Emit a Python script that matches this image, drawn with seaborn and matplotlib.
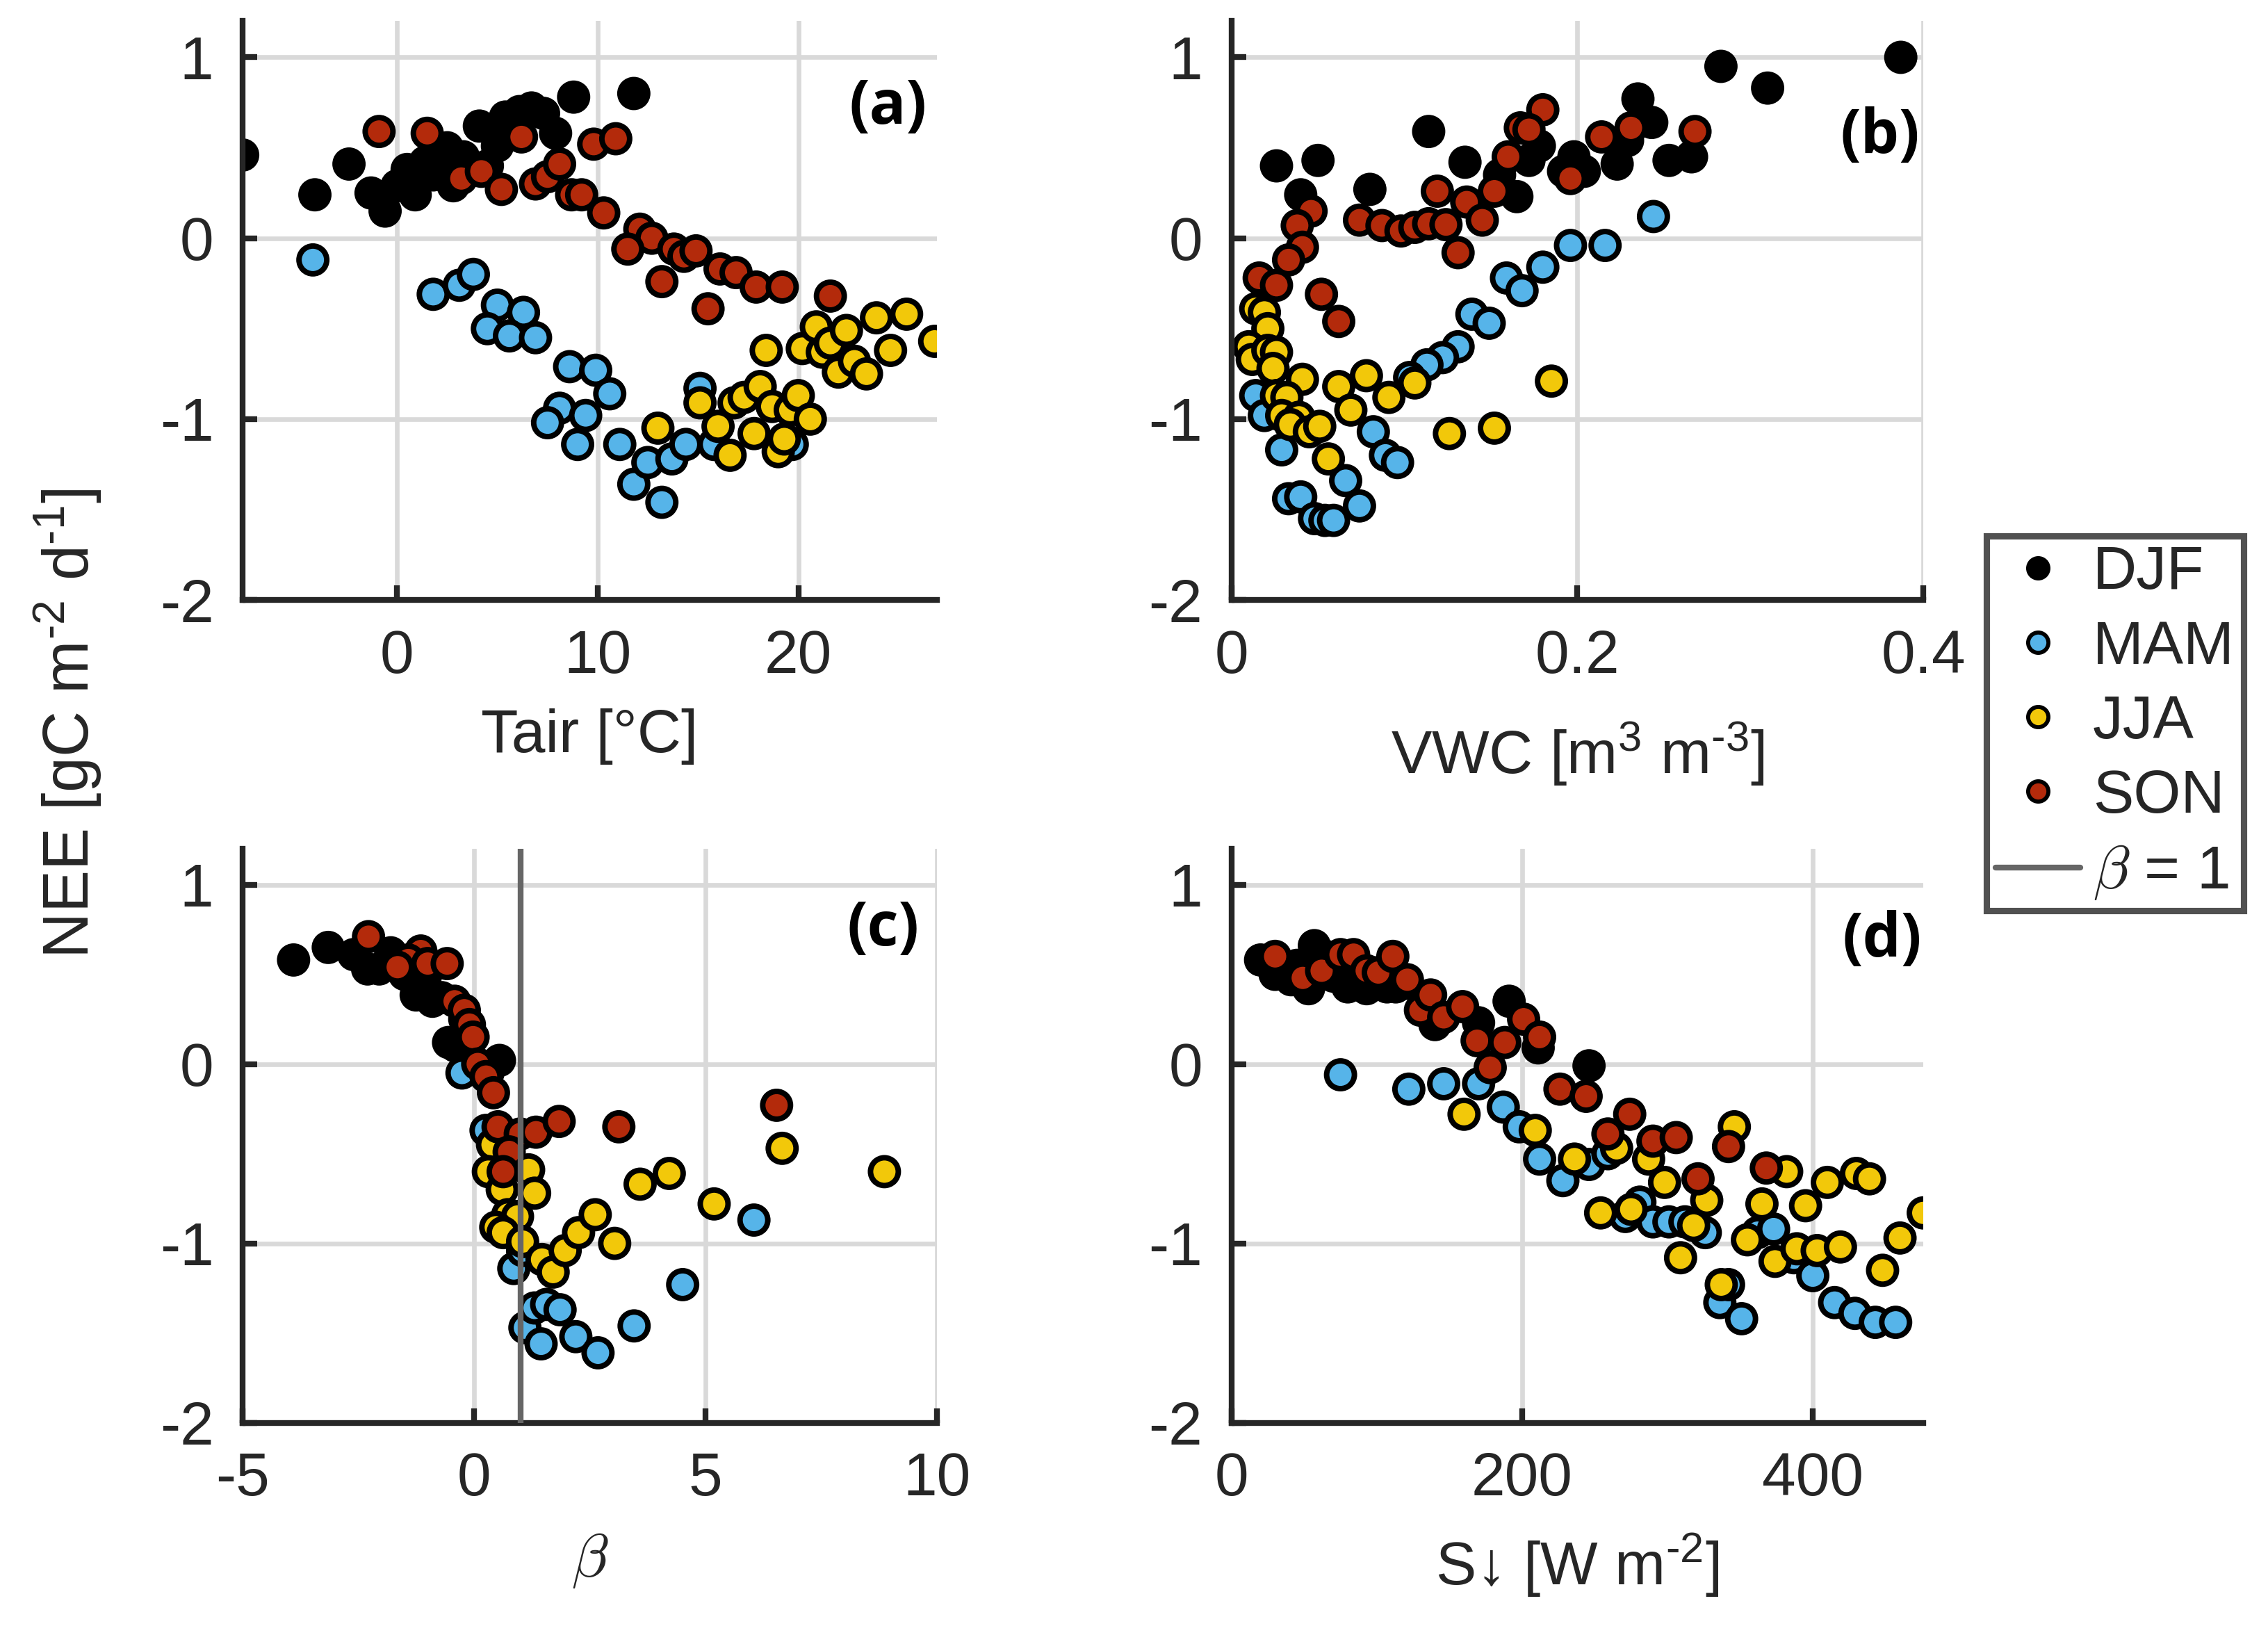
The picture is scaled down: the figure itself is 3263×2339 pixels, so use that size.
import numpy as np
import pandas as pd
import matplotlib
matplotlib.use("Agg")
import matplotlib.pyplot as plt
from matplotlib.lines import Line2D
import seaborn as sns

seasons = ["DJF", "MAM", "JJA", "SON"]
colors = {"DJF": "#000000", "MAM": "#56B4E9", "JJA": "#F2C80A", "SON": "#B32A0B"}

# ---- panel (a): Tair ----
a_djf_x = [-7.7, -4.1, -2.4, -1.3, -0.6, 0.0, 0.5, 0.9, 1.4, 1.8, 2.5, 2.8, 3.3, 4.1, 4.5,
           5.0, 5.4, 6.1, 6.7, 7.3, 7.9, 8.8, 11.8, 1.0, 2.2]
a_djf_y = [0.46, 0.24, 0.41, 0.25, 0.15, 0.29, 0.38, 0.24, 0.42, 0.35, 0.50, 0.29, 0.45, 0.62, 0.40,
           0.51, 0.67, 0.70, 0.72, 0.69, 0.58, 0.78, 0.80, 0.32, 0.40]
a_mam_x = [-4.2, 1.8, 3.1, 3.8, 5.0, 6.3, 4.5, 5.6, 6.9, 8.6, 9.9, 10.6, 8.1, 7.5, 9.4,
           9.0, 11.1, 11.8, 12.5, 13.2, 13.7, 14.4, 15.1, 15.8, 19.7]
a_mam_y = [-0.12, -0.31, -0.26, -0.20, -0.37, -0.41, -0.50, -0.54, -0.55, -0.71, -0.73, -0.86, -0.94, -1.02, -0.98,
           -1.14, -1.14, -1.36, -1.24, -1.46, -1.22, -1.14, -0.83, -1.14, -1.14]
a_jja_x = [15.1, 13.0, 16.0, 16.6, 16.8, 17.3, 18.1, 17.8, 18.7, 19.6, 20.0, 20.6, 19.0, 19.3,
           18.4, 20.2, 20.9, 21.2, 21.6, 22.4, 22.0, 22.8, 23.4, 23.9, 24.6, 25.4, 26.8]
a_jja_y = [-0.91, -1.05, -1.04, -1.20, -0.91, -0.88, -0.82, -1.08, -0.93, -0.95, -0.87, -1.00, -1.18, -1.11,
           -0.62, -0.61, -0.49, -0.63, -0.58, -0.51, -0.74, -0.68, -0.75, -0.44, -0.62, -0.42, -0.57]
a_son_x = [-0.9, 1.5, 3.2, 4.2, 5.2, 6.2, 6.9, 7.5, 8.1, 8.7, 9.2, 9.8, 10.9, 10.3, 12.1,
           12.7, 11.5, 13.8, 14.3, 14.9, 13.2, 16.1, 16.9, 17.9, 19.2, 15.5, 21.6]
a_son_y = [0.59, 0.58, 0.33, 0.37, 0.27, 0.56, 0.30, 0.34, 0.41, 0.24, 0.24, 0.52, 0.55, 0.14, 0.05,
           0.00, -0.06, -0.06, -0.10, -0.07, -0.24, -0.17, -0.19, -0.27, -0.27, -0.39, -0.32]

# ---- panel (b): VWC ----
b_djf_x = [0.026, 0.040, 0.050, 0.080, 0.114, 0.135, 0.165, 0.155, 0.172, 0.178, 0.192, 0.198,
           0.204, 0.223, 0.229, 0.235, 0.243, 0.253, 0.266, 0.283, 0.310, 0.387]
b_djf_y = [0.40, 0.24, 0.43, 0.27, 0.59, 0.42, 0.23, 0.35, 0.43, 0.51, 0.37, 0.45,
           0.37, 0.41, 0.54, 0.77, 0.64, 0.43, 0.45, 0.95, 0.83, 1.00]
b_mam_x = [0.244, 0.216, 0.196, 0.180, 0.159, 0.168, 0.139, 0.149, 0.131, 0.122, 0.113, 0.103,
           0.082, 0.089, 0.096, 0.066, 0.074, 0.033, 0.040, 0.048, 0.054, 0.059, 0.029, 0.014, 0.019]
b_mam_y = [0.12, -0.04, -0.04, -0.16, -0.22, -0.29, -0.42, -0.47, -0.60, -0.66, -0.70, -0.77,
           -1.07, -1.20, -1.24, -1.34, -1.48, -1.44, -1.43, -1.55, -1.56, -1.56, -1.17, -0.87, -0.98]
b_jja_x = [0.014, 0.019, 0.021, 0.010, 0.012, 0.021, 0.026, 0.024, 0.041, 0.026, 0.032, 0.029,
           0.039, 0.034, 0.045, 0.051, 0.056, 0.062, 0.069, 0.078, 0.091, 0.106, 0.126, 0.152, 0.185]
b_jja_y = [-0.39, -0.41, -0.50, -0.60, -0.67, -0.62, -0.63, -0.72, -0.78, -0.87, -0.88, -0.98,
           -0.99, -1.03, -1.07, -1.04, -1.22, -0.82, -0.95, -0.76, -0.88, -0.80, -1.08, -1.05, -0.79]
b_son_x = [0.180, 0.167, 0.172, 0.160, 0.152, 0.136, 0.145, 0.119, 0.074, 0.087, 0.098, 0.106,
           0.114, 0.124, 0.131, 0.046, 0.038, 0.041, 0.033, 0.016, 0.026, 0.052, 0.062, 0.196,
           0.214, 0.231, 0.268]
b_son_y = [0.71, 0.61, 0.60, 0.45, 0.26, 0.20, 0.10, 0.26, 0.10, 0.07, 0.04, 0.06,
           0.08, 0.075, -0.08, 0.15, 0.07, -0.05, -0.12, -0.22, -0.26, -0.31, -0.46, 0.33,
           0.56, 0.61, 0.59]

# ---- panel (c): beta ----
c_djf_x = [-3.9, -3.15, -2.6, -2.3, -2.05, -1.8, -1.5, -1.25, -1.05, -0.9, -0.7, -0.55,
           -0.4, 0.55, 0.3, -0.2]
c_djf_y = [0.58, 0.65, 0.61, 0.53, 0.53, 0.62, 0.50, 0.385, 0.49, 0.35, 0.37, 0.12,
           0.10, 0.02, -0.05, 0.25]
c_mam_x = [-0.26, 0.26, 0.86, 1.10, 1.31, 1.57, 1.86, 1.45, 2.20, 2.68, 3.46, 4.51, 6.05, 1.05]
c_mam_y = [-0.05, -0.37, -1.14, -1.47, -1.36, -1.34, -1.37, -1.56, -1.52, -1.61, -1.46, -1.23, -0.87, -1.04]
c_jja_x = [0.40, 0.31, 0.61, 1.18, 1.31, 0.73, 0.94, 0.47, 0.63, 1.05, 1.47, 1.71, 1.97,
           2.26, 2.62, 3.04, 3.59, 4.22, 5.19, 6.66, 8.87]
c_jja_y = [-0.45, -0.60, -0.70, -0.59, -0.72, -0.84, -0.85, -0.91, -0.94, -0.99, -1.09, -1.16, -1.04,
           -0.94, -0.84, -1.00, -0.67, -0.61, -0.78, -0.47, -0.60]
c_son_x = [-2.28, -1.15, -1.42, -1.65, -1.0, -0.58, -0.42, -0.21, -0.10, -0.02, 0.08, 0.26,
           0.42, 0.52, 1.0, 1.34, 1.84, 0.76, 0.63, 3.13, 6.54]
c_son_y = [0.71, 0.63, 0.58, 0.54, 0.56, 0.56, 0.35, 0.30, 0.22, 0.15, 0.00, -0.07,
           -0.16, -0.35, -0.39, -0.38, -0.32, -0.49, -0.60, -0.35, -0.23]

# ---- panel (d): shortwave ----
d_djf_x = [20, 30, 41, 53, 57, 70, 80, 93, 107, 113, 140, 170, 191, 211, 246, 65, 45, 120]
d_djf_y = [0.58, 0.50, 0.47, 0.42, 0.66, 0.49, 0.43, 0.42, 0.43, 0.43, 0.22, 0.23, 0.35, 0.09,
           -0.01, 0.60, 0.55, 0.45]
d_mam_x = [75, 122, 146, 170, 187, 198, 212, 228, 246, 259, 281, 271, 290, 301, 312, 326,
           336, 342, 351, 362, 373, 387, 400, 415, 429, 443, 457]
d_mam_y = [-0.06, -0.14, -0.11, -0.11, -0.24, -0.35, -0.53, -0.65, -0.56, -0.50, -0.77, -0.85,
           -0.88, -0.88, -0.88, -0.94, -1.33, -1.23, -1.42, -0.94, -0.92, -1.08, -1.18, -1.33,
           -1.39, -1.44, -1.44]
d_jja_x = [160, 209, 236, 265, 287, 298, 254, 275, 318, 327, 309, 346, 337, 355, 365, 382,
           374, 389, 395, 403, 410, 419, 430, 439, 448, 460, 476]
d_jja_y = [-0.28, -0.37, -0.53, -0.47, -0.53, -0.66, -0.83, -0.81, -0.90, -0.76, -1.08, -0.35,
           -1.23, -0.98, -0.78, -0.60, -1.10, -1.03, -0.79, -1.04, -0.66, -1.02, -0.61, -0.64,
           -1.15, -0.97, -0.83]
d_son_x = [30, 49, 62, 75, 84, 93, 101, 111, 121, 130, 137, 146, 159, 169, 188, 201, 212,
           178, 226, 244, 274, 259, 290, 306, 321, 342, 368]
d_son_y = [0.60, 0.48, 0.52, 0.61, 0.61, 0.52, 0.51, 0.60, 0.47, 0.30, 0.385, 0.26, 0.32,
           0.13, 0.12, 0.25, 0.15, -0.02, -0.14, -0.18, -0.28, -0.39, -0.43, -0.41, -0.64,
           -0.46, -0.58]

panels = [
    ("(a)", [(a_djf_x, a_djf_y), (a_mam_x, a_mam_y), (a_jja_x, a_jja_y), (a_son_x, a_son_y)]),
    ("(b)", [(b_djf_x, b_djf_y), (b_mam_x, b_mam_y), (b_jja_x, b_jja_y), (b_son_x, b_son_y)]),
    ("(c)", [(c_djf_x, c_djf_y), (c_mam_x, c_mam_y), (c_jja_x, c_jja_y), (c_son_x, c_son_y)]),
    ("(d)", [(d_djf_x, d_djf_y), (d_mam_x, d_mam_y), (d_jja_x, d_jja_y), (d_son_x, d_son_y)]),
]
xlims = [(-7.7, 26.9), (0, 0.4), (-5, 10), (0, 476)]
xticks = [[0, 10, 20], [0, 0.2, 0.4], [-5, 0, 5, 10], [0, 200, 400]]
xticklabels = [["0", "10", "20"], ["0", "0.2", "0.4"], ["-5", "0", "5", "10"], ["0", "200", "400"]]
xlabels = ["Tair [°C]", r"VWC [m$^{3}$ m$^{\text{-3}}$]", r"$\beta$", r"S↓ [W m$^{\text{-2}}$]"]
label_pos = [(0.93, 0.85), (0.937, 0.80), (0.923, 0.86), (0.94, 0.84)]

sns.set_style("ticks")
plt.rcParams["font.family"] = ["Liberation Sans", "DejaVu Sans"]
plt.rcParams["mathtext.fontset"] = "custom"
plt.rcParams["mathtext.rm"] = "Liberation Sans"
plt.rcParams["mathtext.it"] = "Liberation Sans:italic"
plt.rcParams["axes.unicode_minus"] = False

fig = plt.figure(figsize=(3263 / 300, 2339 / 300), dpi=300)
positions = [[0.107, 0.631, 0.306, 0.356], [0.543, 0.631, 0.305, 0.356],
             [0.107, 0.125, 0.306, 0.353], [0.543, 0.125, 0.305, 0.353]]

for i, (tag, series) in enumerate(panels):
    ax = fig.add_axes(positions[i])
    frames = []
    for s, (xs, ys) in zip(seasons, series):
        frames.append(pd.DataFrame({"x": xs, "y": ys, "season": s}))
    df = pd.concat(frames, ignore_index=True)
    sns.scatterplot(data=df, x="x", y="y", hue="season", hue_order=seasons, palette=colors,
                    s=92, edgecolor="black", linewidth=1.9, legend=False, ax=ax, zorder=2)
    if i == 2:
        ax.axvline(1, color="#666666", lw=2.0, zorder=3)
    ax.set_xlim(*xlims[i])
    ax.set_ylim(-2, 1.2)
    ax.set_xticks(xticks[i])
    ax.set_xticklabels(xticklabels[i])
    ax.set_yticks([-2, -1, 0, 1])
    ax.set_yticklabels(["-2", "-1", "0", "1"])
    ax.grid(True, color="#D9D9D9", lw=1.6)
    ax.set_axisbelow(True)
    for sp in ["top", "right"]:
        ax.spines[sp].set_visible(False)
    for sp in ["left", "bottom"]:
        ax.spines[sp].set_linewidth(2.0)
        ax.spines[sp].set_color("#262626")
    ax.tick_params(direction="in", length=5, width=2.0, colors="#262626", labelsize=21, pad=10)
    if i == 2:
        ax.set_xlabel(xlabels[i], fontsize=21, color="#262626", math_fontfamily="cm", labelpad=8)
    elif i == 1:
        ax.set_xlabel(xlabels[i], fontsize=21, color="#262626", labelpad=12)
    else:
        ax.set_xlabel(xlabels[i], fontsize=21, color="#262626", labelpad=8)
    ax.set_ylabel("")
    ax.text(label_pos[i][0], label_pos[i][1], tag, transform=ax.transAxes, ha="center", va="center",
            fontsize=21, fontweight="bold", family="Open Sans", color="black")

fig.text(0.03, 0.555, r"NEE [gC m$^{\text{-2}}$ d$^{\text{-1}}$]", rotation=90, ha="center",
         va="center", fontsize=22, color="#262626")

handles = [Line2D([], [], ls="none", marker="o", markersize=7, markerfacecolor=colors[s],
                  markeredgecolor="black", markeredgewidth=1.4, label=s) for s in seasons]
handles.append(Line2D([], [], color="#666666", lw=2.0, label=r"$\beta$ = 1"))
leg = fig.legend(handles=handles, loc="center", bbox_to_anchor=(0.9325, 0.555), fontsize=21,
                 frameon=True, fancybox=False, edgecolor="#262626", handlelength=1.4,
                 handletextpad=0.2, borderpad=0.15, borderaxespad=0, labelspacing=0.3)
leg.get_frame().set_linewidth(2.2)
for t in leg.get_texts():
    if "beta" in t.get_text():
        t.set_math_fontfamily("cm")

fig.savefig("out.png", dpi=300)
